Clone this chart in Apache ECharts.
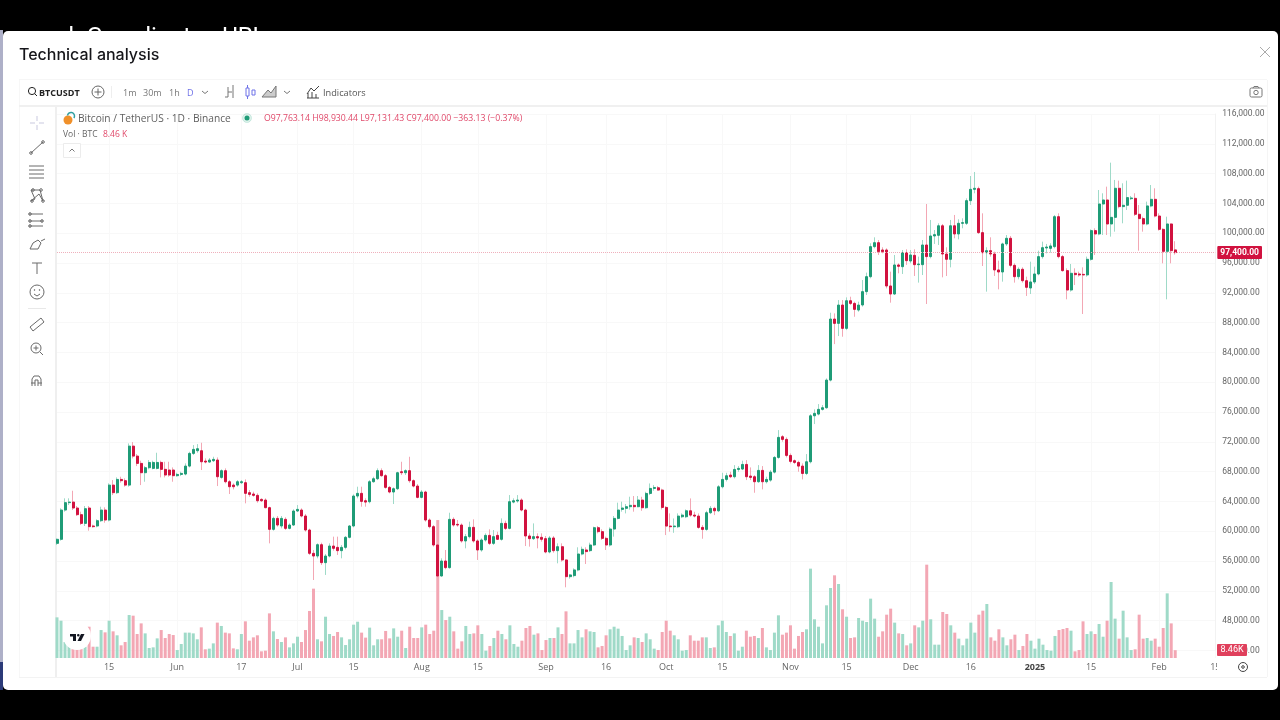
<!DOCTYPE html>
<html>
<head>
<meta charset="UTF-8">
<title>Technical analysis</title>
<style>
  * { margin: 0; padding: 0; }
  body { background: #000; }
  #chart { width: 1280px; height: 720px; }
</style>
</head>
<body>
<div id="chart"></div>
<script src="https://cdn.jsdelivr.net/npm/echarts@6/dist/echarts.min.js"></script>
<script>
// daily candles, prices in thousands of USDT, first candle is 2 May 2024
var opens = [
  58.38,58.92,62.85,63.84,63.92,63.12,62.23,61.06,63.12,60.71,
  60.71,61.42,62.85,61.51,66.20,65.18,66.96,66.79,66.20,71.43,
  70.09,69.11,67.86,68.53,68.44,68.44,69.24,68.31,68.22,68.22,
  67.46,67.63,67.68,68.75,70.45,70.81,70.81,69.42,69.29,69.47,
  69.56,67.23,68.13,66.65,66.20,66.20,66.52,66.52,65.18,65.00,
  64.82,64.28,64.19,63.17,60.26,61.73,60.71,61.60,60.39,60.84,
  62.72,62.85,62.05,60.17,57.04,56.68,58.20,55.79,56.68,58.02,
  57.84,57.40,57.84,59.19,60.71,64.73,65.09,64.10,63.97,66.65,
  67.05,68.13,67.46,65.89,65.27,65.71,67.99,67.86,68.13,66.79,
  66.07,64.55,65.27,61.51,60.62,58.16,54.00,56.01,55.12,61.60,
  60.93,60.84,58.70,59.28,60.53,58.70,57.49,58.83,59.45,58.38,
  59.45,58.92,61.06,60.39,63.92,64.06,64.19,62.85,59.37,59.01,
  59.28,59.19,59.01,57.22,59.10,57.40,57.93,56.15,53.91,54.05,
  54.81,56.95,57.49,57.40,58.16,60.48,59.95,59.05,58.16,60.30,
  61.73,62.94,63.08,63.30,63.48,63.30,64.19,63.16,65.08,65.75,
  65.84,65.53,63.20,60.70,60.61,60.61,61.95,61.95,62.75,62.17,
  62.04,60.52,60.25,62.49,63.07,62.75,65.97,66.96,67.54,67.32,
  68.30,68.35,68.97,67.41,67.32,66.65,68.17,66.65,66.87,67.94,
  69.91,72.69,72.33,70.18,69.47,69.24,68.75,67.76,69.33,75.50,
  75.73,76.36,76.58,80.29,88.48,87.90,90.36,87.23,90.94,90.58,
  89.69,90.37,92.16,94.17,98.20,98.73,97.75,97.75,92.92,91.84,
  95.74,95.51,97.39,96.27,97.03,95.78,95.78,98.42,96.86,99.63,
  99.72,101.00,97.21,96.50,101.00,99.90,101.33,101.33,104.37,105.89,
  105.98,100.08,97.39,97.66,97.21,95.07,94.80,98.56,99.32,95.69,
  94.17,95.16,93.63,92.65,93.46,94.53,96.86,98.02,97.97,98.20,
  102.22,96.86,94.98,92.38,94.62,94.53,94.48,94.40,96.50,100.35,
  99.90,103.92,104.46,101.24,102.13,106.03,103.57,103.75,104.64,104.68,
  102.54,101.96,101.24,103.66,104.55,102.31,100.52,97.57,101.24,97.76
];
var closes = [
  58.92,62.85,63.84,63.92,63.12,62.23,61.06,63.03,60.62,60.62,
  61.42,62.85,61.51,66.20,65.18,66.96,66.79,66.20,71.43,70.09,
  69.11,67.86,68.53,69.24,69.24,69.24,68.31,67.55,67.55,67.46,
  67.63,67.77,68.75,70.45,70.99,71.08,69.33,69.29,69.56,69.65,
  67.32,68.13,66.65,65.98,65.98,66.65,66.65,65.09,64.95,64.82,
  64.10,64.10,63.17,60.26,61.73,60.84,61.73,60.39,60.84,62.72,
  62.94,62.05,60.17,57.04,56.68,58.20,55.79,56.68,58.02,57.71,
  57.40,57.84,59.19,60.71,64.73,65.09,64.01,63.92,66.65,67.05,
  68.13,67.46,65.89,65.27,65.71,67.86,67.86,68.13,66.79,66.07,
  64.55,65.27,61.51,60.62,58.16,54.00,56.01,55.12,61.60,60.84,
  60.84,58.70,59.28,60.53,58.70,57.49,58.83,59.45,58.38,59.28,
  58.92,61.06,60.39,63.97,64.10,64.19,62.85,59.37,59.01,59.28,
  59.10,58.92,57.22,59.10,57.40,57.93,56.15,53.91,54.14,54.81,
  56.95,57.58,57.27,58.16,60.48,59.95,59.05,58.16,60.30,61.73,
  62.85,63.12,63.30,63.48,63.30,64.19,63.16,65.08,65.75,65.88,
  65.53,63.20,60.70,60.61,60.70,62.04,62.17,62.75,62.17,62.04,
  60.52,60.25,62.49,63.07,62.75,65.97,66.96,67.45,67.32,68.30,
  68.44,68.97,67.32,67.23,66.65,68.17,66.65,66.96,67.94,69.91,
  72.60,72.33,70.18,69.38,69.24,68.75,67.76,69.33,75.50,75.82,
  76.36,76.58,80.29,88.48,87.90,90.36,87.23,90.94,90.58,89.78,
  90.36,92.16,94.17,98.20,98.73,97.53,97.53,92.92,91.84,95.74,
  95.56,97.39,96.32,97.08,95.78,95.87,98.42,96.86,99.63,99.81,
  101.00,97.21,96.50,101.00,99.90,101.33,101.42,104.37,105.89,106.03,
  100.08,97.39,97.66,97.21,95.07,94.80,98.56,99.32,95.69,94.17,
  95.16,93.63,92.74,93.46,94.53,96.86,98.06,98.15,98.29,102.22,
  96.86,94.98,92.38,94.62,94.44,94.40,94.40,96.50,100.35,99.90,
  103.92,104.46,101.24,102.13,106.03,103.57,103.75,104.78,104.73,102.54,
  101.96,101.24,103.66,104.55,102.31,100.52,97.57,101.24,97.66,97.40
];
var lows = [
  58.16,58.74,62.63,63.52,62.85,62.05,60.84,60.71,60.08,60.48,
  60.53,61.24,61.15,61.33,64.86,65.00,66.52,65.98,65.98,69.78,
  68.75,66.20,66.65,68.31,68.31,68.31,67.23,67.23,67.32,66.65,
  67.32,67.41,67.50,68.57,70.23,70.54,68.22,69.11,69.20,69.29,
  66.07,67.05,66.43,65.00,65.62,65.98,66.34,63.75,64.64,64.64,
  63.84,63.93,63.08,58.38,60.08,60.62,60.39,60.17,60.26,60.71,
  62.58,61.87,59.95,56.82,53.46,56.37,55.48,54.14,56.50,57.40,
  56.82,56.37,57.58,59.05,60.53,64.42,63.30,63.30,63.75,66.52,
  66.87,67.32,65.71,65.09,63.66,65.53,67.55,67.55,66.52,65.89,
  64.42,64.42,61.29,60.39,57.94,49.00,53.91,54.90,54.98,60.62,
  60.62,58.47,57.71,59.05,58.47,56.15,57.26,58.61,58.16,58.16,
  58.83,58.74,60.17,60.26,63.75,63.84,62.67,58.02,57.94,58.83,
  57.71,58.61,57.04,57.04,57.13,55.70,55.92,52.48,53.64,53.82,
  54.63,56.77,55.61,57.22,58.02,59.72,58.83,57.49,57.94,59.28,
  61.60,62.63,62.40,62.90,62.63,63.21,62.75,63.02,64.86,65.44,
  65.44,62.93,59.49,59.94,59.80,60.43,61.77,61.77,61.95,61.86,
  60.34,59.00,60.07,62.31,62.17,62.58,65.75,66.69,67.14,67.09,
  67.99,68.21,66.87,66.87,65.17,66.51,65.62,66.42,66.65,67.76,
  69.73,72.02,69.91,69.11,69.02,67.99,66.96,67.54,69.11,74.39,
  75.55,76.20,76.44,80.11,85.12,86.20,86.11,87.00,90.36,88.79,
  89.46,90.15,91.71,93.95,97.97,97.08,97.30,92.60,90.68,91.71,
  94.62,94.53,95.74,95.96,94.26,93.37,94.39,90.50,96.63,98.56,
  98.42,94.08,94.26,95.42,99.32,99.18,100.66,101.10,103.79,105.36,
  99.90,95.60,92.16,96.86,94.26,92.47,93.50,98.29,95.42,93.37,
  93.81,93.37,91.58,91.84,93.19,94.35,96.59,97.30,97.39,97.97,
  96.63,94.84,91.13,92.16,93.05,94.17,89.16,94.17,96.32,97.08,
  99.72,99.76,99.76,99.54,100.21,103.34,101.33,103.12,104.46,102.31,
  97.66,100.21,101.06,103.48,102.13,100.35,95.96,91.13,95.96,97.13
];
var highs = [
  59.05,63.08,64.42,64.42,65.44,63.39,62.63,63.39,63.39,60.89,
  61.60,63.30,63.21,66.43,66.87,67.23,67.32,67.10,71.79,71.97,
  70.36,69.47,68.75,69.56,69.47,70.54,69.47,69.33,69.33,68.57,
  67.86,67.99,69.11,70.67,71.57,71.70,71.88,69.78,69.83,70.00,
  69.91,68.31,68.44,66.87,66.43,66.87,66.87,66.96,65.53,65.31,
  65.09,64.42,64.42,63.30,61.96,62.05,62.05,61.87,61.06,62.94,
  63.52,63.08,62.32,60.35,57.49,58.38,58.47,56.95,58.38,59.28,
  59.28,58.16,59.37,60.84,64.95,65.98,65.98,64.42,66.87,67.32,
  68.44,68.44,67.68,66.07,65.89,67.99,69.33,68.31,70.00,66.96,
  66.34,65.53,65.44,61.73,60.84,58.25,56.37,57.49,62.49,61.87,
  61.51,61.06,59.63,61.29,61.60,58.92,59.05,59.72,60.26,60.17,
  59.94,61.73,61.42,64.86,64.42,64.86,64.42,63.03,59.72,61.06,
  59.72,59.72,59.37,59.37,59.37,58.38,58.38,56.24,54.27,55.03,
  57.85,57.94,57.85,58.47,60.62,60.71,60.26,59.28,60.53,62.05,
  63.84,63.97,63.66,64.64,64.73,64.73,64.63,65.30,66.42,66.20,
  66.06,65.71,63.38,62.40,61.72,62.40,62.40,62.93,64.41,62.62,
  62.40,60.83,62.75,63.38,63.29,66.20,67.85,67.85,67.99,68.88,
  68.75,69.47,69.55,68.57,67.54,68.88,68.75,67.32,68.21,70.09,
  73.58,72.91,72.60,70.45,69.64,69.47,69.11,70.36,75.73,76.36,
  77.07,76.94,80.52,89.33,89.24,91.03,91.03,91.39,91.48,90.81,
  90.81,93.72,94.71,98.65,99.45,99.09,98.11,97.97,94.84,97.08,
  95.96,97.75,97.84,97.75,97.84,96.86,99.09,103.92,101.78,100.43,
  101.33,101.24,98.11,101.78,102.45,101.87,102.00,104.68,107.68,108.22,
  106.25,102.67,98.11,99.45,97.53,96.32,98.73,99.76,99.63,95.96,
  95.42,95.42,94.17,96.18,95.51,97.66,98.87,98.56,98.65,102.45,
  102.67,97.08,95.29,95.87,95.29,94.84,95.42,96.86,100.52,100.66,
  105.80,105.36,106.25,109.47,107.15,107.06,106.70,107.06,105.00,105.36,
  103.79,102.22,104.24,106.47,106.03,102.67,100.66,102.22,101.33,98.93
];
// volume in thousands of BTC
var volumes = [
  43.9,40.3,17.3,13.7,12.2,10.8,10.8,12.2,33.8,12.2,
  12.2,30.2,27.7,40.3,28.8,24.5,13.7,17.3,46.4,45.7,
  25.9,37.4,26.6,10.8,11.5,21.2,30.2,21.6,25.9,24.8,
  8.6,15.1,27.4,27.4,26.6,20.2,33.1,9.4,10.1,15.8,
  38.2,34.6,27.4,26.6,10.4,9.4,25.9,39.6,18.7,22.3,
  24.5,7.2,7.9,48.2,28.8,20.5,17.3,22.3,11.5,15.8,
  23.0,17.3,30.2,50.8,74.9,20.2,18.0,44.6,25.9,23.8,
  28.1,22.3,14.0,20.2,36.0,39.2,27.4,22.0,32.8,13.7,
  20.2,20.2,29.2,21.2,32.0,23.0,29.5,10.8,33.8,21.6,
  21.6,33.1,36.0,25.9,29.5,149.0,51.8,41.0,44.6,28.8,
  10.1,18.0,34.6,25.9,26.6,35.3,25.9,7.9,13.0,21.6,
  29.5,25.9,20.2,35.3,15.1,12.2,18.7,32.4,34.6,25.2,
  26.6,8.6,19.4,21.6,21.6,33.1,25.9,50.4,15.8,15.8,
  30.2,22.3,31.0,28.8,28.1,11.5,13.0,24.5,31.0,33.8,
  31.7,23.8,8.6,13.7,22.3,21.6,17.3,26.6,20.2,10.1,
  8.6,28.1,40.3,29.5,24.5,20.2,7.9,8.6,24.5,18.7,
  18.7,22.3,22.3,10.8,11.5,35.3,40.3,28.1,23.8,26.6,
  7.9,12.2,29.5,23.0,23.8,21.6,32.4,11.5,8.6,27.4,
  46.1,25.2,27.4,35.3,10.1,23.8,28.1,31.0,96.5,41.8,
  33.8,15.8,56.9,75.6,89.3,79.9,52.6,44.6,21.6,22.3,
  43.2,40.3,38.9,64.1,42.5,23.0,28.8,46.8,53.3,38.2,
  26.6,25.9,13.7,15.8,35.3,33.1,40.3,100.8,41.8,14.4,
  14.4,49.7,47.5,35.3,27.4,20.9,13.7,20.9,38.2,27.4,
  46.8,51.1,58.3,22.3,18.7,31.0,22.3,13.7,20.2,25.2,
  8.6,13.0,25.9,18.7,10.1,20.9,14.4,8.6,7.9,23.8,
  30.2,31.3,32.4,29.5,7.2,8.6,39.6,25.9,28.8,25.9,
  36.7,23.0,40.3,82.1,42.5,20.9,51.1,22.3,8.6,9.4,
  46.8,20.9,21.6,18.7,20.9,12.2,32.4,69.8,37.4,8.46
];
var lastPrice = 97.4;
var priceTicks = { min: 44, max: 116, step: 4 };

// date axis runs on ten days past the last candle
var categories = [];
for (var t = Date.UTC(2024, 4, 2); t <= Date.UTC(2025, 1, 15); t += 86400000) {
  categories.push(new Date(t).toISOString().slice(0, 10));
}
var tickLabels = {
  '2024-05-15': '15', '2024-06-01': 'Jun', '2024-06-17': '17', '2024-07-01': 'Jul',
  '2024-07-15': '15', '2024-08-01': 'Aug', '2024-08-15': '15', '2024-09-01': 'Sep',
  '2024-09-16': '16', '2024-10-01': 'Oct', '2024-10-15': '15', '2024-11-01': 'Nov',
  '2024-11-15': '15', '2024-12-01': 'Dec', '2024-12-16': '16', '2025-01-01': '2025',
  '2025-01-15': '15', '2025-02-01': 'Feb', '2025-02-15': '15'
};

var UP = '#1f9c77', DOWN = '#d1123f';
var UP_PALE = '#9fdac8', DOWN_PALE = '#f3a7b4';
var FONT = '"Open Sans", sans-serif';
var ICON = '#6a6a6a';

function hasTick(index) {
  return tickLabels[categories[index]] !== undefined;
}

// wick layer keeps the real high/low, body layer is cut down to open/close
var wickData = opens.map(function (o, i) { return [o, closes[i], lows[i], highs[i]]; });
var bodyData = opens.map(function (o, i) {
  return [o, closes[i], Math.min(o, closes[i]), Math.max(o, closes[i])];
});

function txt(x, y, text, size, color, extra) {
  return {
    type: 'text', x: x, y: y + 1, z: 20,
    style: Object.assign({
      text: text, fontSize: size, fill: color, fontFamily: FONT,
      verticalAlign: 'middle'
    }, extra || {})
  };
}
function box(x, y, w, h, fill, z, r) {
  return { type: 'rect', z: z, shape: { x: x, y: y, width: w, height: h, r: r || 0 }, style: { fill: fill } };
}
function stroke(points, color, width) {
  return {
    type: 'polyline', z: 20, shape: { points: points },
    style: { stroke: color || ICON, lineWidth: width || 1, fill: null }
  };
}
function ring(x, y, r, color, fill) {
  return {
    type: 'circle', z: 20, shape: { cx: x, cy: y, r: r },
    style: { stroke: color || ICON, lineWidth: 1, fill: fill || null }
  };
}

var behind = txt(56, 37, 'ck Coordinates URL', 24, '#ffffff', { fontFamily: 'Roboto' });
behind.z = -20;

var graphics = [
  // page behind the dialog
  behind,
  box(0, 30, 3, 660, '#aeb0c8', -20),
  box(0, 662, 3, 28, '#2b3a78', -20),
  // dialog
  box(3, 31, 1275, 659, '#ffffff', -10, 5),
  box(19, 79, 1248, 1, '#f6f6f6', -5),
  box(19, 80, 1, 597, '#f7f7f7', -5),
  box(1267, 80, 1, 597, '#f5f5f5', -5),
  box(19, 677, 1248, 1, '#f3f3f3', -5),
  box(19, 105, 1248, 2, '#f0f0f0', -5),
  box(55, 107, 2, 570, '#efefef', -5),

  // top toolbar
  ring(32, 91, 3.6, '#222222'),
  stroke([[34.6, 93.6], [37, 96]], '#222222'),
  txt(39, 92, 'BTCUSDT', 9, '#222222', { fontWeight: 'bold' }),
  ring(98, 92, 6, '#666666'),
  stroke([[94.5, 92], [101.5, 92]], '#666666'),
  stroke([[98, 88.5], [98, 95.5]], '#666666'),
  box(111, 86, 1, 12, '#eeeeee', -5),
  txt(123, 92, '1m', 9, '#777777'),
  txt(143, 92, '30m', 9, '#777777'),
  txt(169, 92, '1h', 9, '#777777'),
  txt(187, 92, 'D', 9, '#6f72e8'),
  stroke([[202, 91], [205, 93.5], [208, 91]], '#777777'),
  stroke([[225, 97], [228, 97], [228, 87]], '#777777'),
  stroke([[228, 92], [232, 92]], '#777777'),
  stroke([[233, 85], [233, 98]], '#777777'),
  { type: 'rect', z: 20, shape: { x: 246, y: 88, width: 3, height: 8 }, style: { stroke: '#6f72e8', fill: null } },
  { type: 'rect', z: 20, shape: { x: 252, y: 90, width: 3, height: 5 }, style: { stroke: '#6f72e8', fill: null } },
  stroke([[247.5, 85], [247.5, 88]], '#6f72e8'),
  stroke([[247.5, 96], [247.5, 99]], '#6f72e8'),
  { type: 'polygon', z: 20, shape: { points: [[262, 97], [268, 90], [271, 93], [276, 86], [276, 97]] },
    style: { fill: '#cccccc', stroke: '#777777' } },
  stroke([[284, 91], [287, 93.5], [290, 91]], '#777777'),
  stroke([[307, 94], [311, 88], [314, 91], [319, 86]], '#444444'),
  stroke([[308, 98], [308, 93]], '#444444'),
  stroke([[312, 98], [312, 92]], '#444444'),
  stroke([[316, 98], [316, 94]], '#444444'),
  stroke([[307, 98], [319, 98]], '#444444'),
  txt(323, 92, 'Indicators', 9.2, '#555555'),
  { type: 'rect', z: 20, shape: { x: 1250, y: 88, width: 12, height: 9, r: 1.5 }, style: { stroke: '#777777', fill: null } },
  ring(1256, 92.5, 2.2, '#777777'),
  stroke([[1253, 88], [1254, 86.5], [1258, 86.5], [1259, 88]], '#777777'),

  // dialog heading
  txt(19, 54, 'Technical analysis', 16, '#16161a', { fontFamily: 'Inter, Roboto, sans-serif', fontWeight: 500 }),
  stroke([[1260, 47], [1270, 57]], '#aaaaaa'),
  stroke([[1270, 47], [1260, 57]], '#aaaaaa'),

  // drawing tools
  stroke([[37, 116], [37, 121]], '#c9c9df'),
  stroke([[37, 125], [37, 130]], '#c9c9df'),
  stroke([[30, 123], [35, 123]], '#c9c9df'),
  stroke([[39, 123], [44, 123]], '#c9c9df'),
  stroke([[31, 153], [43, 142]], ICON),
  ring(31, 153, 1.3, ICON), ring(43, 142, 1.3, ICON),
  stroke([[29, 166], [44, 166]], ICON), stroke([[29, 170], [44, 170]], ICON),
  stroke([[29, 174], [44, 174]], ICON), stroke([[29, 178], [44, 178]], ICON),
  stroke([[31, 190], [35, 199], [31, 201], [39, 194], [43, 201], [40, 190], [31, 190]], ICON),
  ring(33, 190, 1.3, ICON), ring(41, 190, 1.3, ICON), ring(32, 201, 1.3, ICON), ring(43, 201, 1.3, ICON),
  stroke([[29, 214], [43, 214]], ICON), stroke([[29, 221], [43, 221]], ICON), stroke([[29, 226], [43, 226]], ICON),
  ring(30, 214, 1.3, ICON), ring(30, 221, 1.3, ICON), ring(30, 226, 1.3, ICON), ring(42, 221, 1.3, ICON),
  { type: 'polygon', z: 20, shape: { points: [[30, 249], [33, 243], [38, 240], [41, 243], [38, 249]] }, style: { stroke: ICON, fill: null } },
  stroke([[41, 241], [45, 239]], ICON),
  stroke([[32, 263], [42, 263]], ICON), stroke([[37, 263], [37, 274]], ICON),
  ring(37, 292, 7, ICON),
  stroke([[34, 294], [37, 296], [40, 294]], ICON),
  ring(34.5, 290, 0.4, ICON), ring(39.5, 290, 0.4, ICON),
  box(28, 308, 18, 1, '#e8e8e8', -5),
  { type: 'polygon', z: 20, shape: { points: [[30, 327], [41, 318], [44, 322], [33, 331]] }, style: { stroke: ICON, fill: null } },
  ring(36, 348, 5, ICON), stroke([[40, 352], [43, 355]], ICON),
  stroke([[33.5, 348], [38.5, 348]], ICON), stroke([[36, 345.5], [36, 350.5]], ICON),
  stroke([[32, 386], [32, 379], [34, 376], [39, 376], [41, 379], [41, 386]], ICON),
  stroke([[35, 386], [35, 380], [38, 380], [38, 386]], ICON),
  stroke([[31, 383], [35, 383]], ICON), stroke([[38, 383], [42, 383]], ICON),

  // chart legend
  { type: 'circle', z: 20, shape: { cx: 68, cy: 120, r: 4.5 }, style: { fill: '#f0902a' } },
  { type: 'arc', z: 20, shape: { cx: 71, cy: 116, r: 3.5, startAngle: -3, endAngle: 0.6 }, style: { stroke: '#2f9fa0', lineWidth: 1.5, fill: null } },
  txt(78, 118, 'Bitcoin / TetherUS · 1D · Binance', 10.2, '#5f5f5f'),
  ring(247, 118, 4.5, 'rgba(38,166,130,0.18)', 'rgba(38,166,130,0.15)'),
  { type: 'circle', z: 20, shape: { cx: 247, cy: 118, r: 2.5 }, style: { fill: '#1f9c77' } },
  txt(264, 118, 'O97,763.14 H98,930.44 L97,131.43 C97,400.00 \u2212363.13 (\u22120.37%)', 8.7, '#e0496a'),
  txt(63, 134, 'Vol · BTC', 8.5, '#666666'),
  txt(103, 134, '8.46 K', 8.5, '#e0496a'),
  { type: 'rect', z: 20, shape: { x: 63.5, y: 143.5, width: 17, height: 14 }, style: { stroke: '#ececec', fill: '#ffffff' } },
  stroke([[69.5, 151.5], [72, 149], [74.5, 151.5]], '#777777'),

  // tradingview mark on top of the volume bars
  { type: 'circle', z: 30, shape: { cx: 77, cy: 636, r: 14 }, style: { fill: '#ffffff' } },
  { type: 'polygon', z: 31, shape: { points: [[70, 634], [76, 634], [76, 641], [73, 641], [73, 636.5], [70, 636.5]] }, style: { fill: '#131722' } },
  { type: 'circle', z: 31, shape: { cx: 78.3, cy: 635.2, r: 1.3 }, style: { fill: '#131722' } },
  { type: 'polygon', z: 31, shape: { points: [[81, 634], [84.5, 634], [81, 641], [77.5, 641]] }, style: { fill: '#131722' } },

  // last volume tag, settings icon and the cut off last date label
  box(1217, 644, 30, 12, '#e0405c', 30, 1),
  { type: 'text', z: 31, x: 1232, y: 650, style: { text: '8.46K', fontSize: 9, fill: '#ffffff', fontFamily: 'Roboto',
    align: 'center', verticalAlign: 'middle' } },
  box(1217, 660, 20, 15, '#ffffff', 30),
  { type: 'circle', z: 31, shape: { cx: 1243, cy: 667, r: 4.5 }, style: { stroke: '#444444', lineWidth: 1, fill: null } },
  { type: 'circle', z: 31, shape: { cx: 1243, cy: 667, r: 1.3 }, style: { stroke: '#444444', lineWidth: 1, fill: null } }
];

var chart = echarts.init(document.getElementById('chart'));
chart.setOption({
  animation: false,
  backgroundColor: '#000000',
  textStyle: { fontFamily: FONT },
  graphic: graphics,
  grid: [
    { left: 57, top: 114, width: 1158.3, height: 536.5 },
    { left: 57, top: 508, width: 1158.3, height: 150 }
  ],
  xAxis: [
    {
      type: 'category', gridIndex: 0, data: categories, boundaryGap: false,
      axisLine: { show: false }, axisTick: { show: false }, axisLabel: { show: false },
      splitLine: { show: true, interval: function (i) { return hasTick(i); }, lineStyle: { color: '#f8f8f8' } }
    },
    {
      type: 'category', gridIndex: 1, data: categories, boundaryGap: false,
      axisLine: { show: false }, axisTick: { show: false },
      splitLine: { show: true, interval: function (i) { return hasTick(i); }, lineStyle: { color: '#f8f8f8' } },
      axisLabel: {
        margin: 5, fontSize: 9, color: '#666666', hideOverlap: false, showMaxLabel: true,
        interval: function (i) { return hasTick(i); },
        formatter: function (value) {
          var label = tickLabels[value] || '';
          return label === '2025' ? '{b|2025}' : label;
        },
        rich: { b: { fontSize: 9, fontWeight: 'bold', color: '#444444' } }
      }
    }
  ],
  yAxis: [
    {
      type: 'value', gridIndex: 0, position: 'right', scale: true,
      min: priceTicks.min, max: priceTicks.max, interval: priceTicks.step,
      axisLine: { show: true, lineStyle: { color: '#f2f2f2' } }, axisTick: { show: false },
      splitLine: { lineStyle: { color: '#f8f8f8' } },
      axisLabel: {
        margin: 7, fontSize: 8.5, color: '#666666', fontFamily: 'Roboto',
        formatter: function (v) {
          return (v * 1000).toLocaleString('en-US', { minimumFractionDigits: 2 });
        }
      }
    },
    {
      type: 'value', gridIndex: 1, position: 'right', min: 0, max: 162,
      axisLine: { show: false }, axisTick: { show: false }, axisLabel: { show: false }, splitLine: { show: false }
    }
  ],
  series: [
    {
      name: 'Volume', type: 'bar', xAxisIndex: 1, yAxisIndex: 1, barWidth: 3, z: 2,
      data: volumes,
      itemStyle: {
        color: function (p) {
          return closes[p.dataIndex] >= opens[p.dataIndex] ? UP_PALE : DOWN_PALE;
        }
      }
    },
    {
      name: 'Wicks', type: 'candlestick', xAxisIndex: 0, yAxisIndex: 0, barWidth: 1, z: 3,
      data: wickData,
      itemStyle: { color: UP_PALE, color0: DOWN_PALE, borderColor: UP_PALE, borderColor0: DOWN_PALE, borderWidth: 1 }
    },
    {
      name: 'BTCUSDT', type: 'candlestick', xAxisIndex: 0, yAxisIndex: 0, barWidth: 2.5, z: 4,
      data: bodyData,
      itemStyle: { color: UP, color0: DOWN, borderColor: UP, borderColor0: DOWN, borderWidth: 1 },
      markLine: {
        silent: true, symbol: 'none', animation: false,
        data: [{ yAxis: lastPrice }],
        lineStyle: { type: 'dotted', width: 1, color: '#efb0bc' },
        label: {
          position: 'end', distance: 2, fontSize: 8.5, color: '#ffffff', fontWeight: 'bold', fontFamily: 'Roboto',
          backgroundColor: DOWN, padding: [2, 3], borderRadius: 1,
          formatter: function () {
            return (lastPrice * 1000).toLocaleString('en-US', { minimumFractionDigits: 2 });
          }
        }
      }
    }
  ]
});
</script>
</body>
</html>
